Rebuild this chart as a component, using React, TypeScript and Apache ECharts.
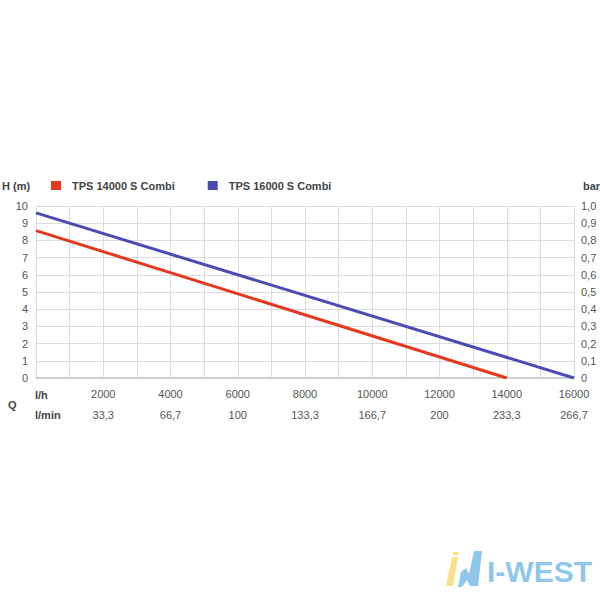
import React, { useEffect, useRef } from "react";
import * as echarts from "echarts";

const seriesNames = ["TPS 14000 S Combi", "TPS 16000 S Combi"];
const tps14000: [number, number][] = [
  [0, 8.57],
  [14000, 0],
];
const tps16000: [number, number][] = [
  [0, 9.6],
  [16000, 0],
];
const lhTicks = [2000, 4000, 6000, 8000, 10000, 12000, 14000, 16000];
const lminTicks = ["33,3", "66,7", "100", "133,3", "166,7", "200", "233,3", "266,7"];
const barTicks = ["0", "0,1", "0,2", "0,3", "0,4", "0,5", "0,6", "0,7", "0,8", "0,9", "1,0"];

const FONT = "Liberation Sans, Arial, sans-serif";
const LABEL = "#555";

export default function App() {
  const ref = useRef<HTMLDivElement>(null);
  useEffect(() => {
    if (!ref.current) return;
    const chart = echarts.init(ref.current, undefined, { renderer: "svg" });
    chart.setOption({
      animation: false,
      backgroundColor: "#fff",
      textStyle: { fontFamily: FONT },
      grid: { left: 36, right: 26, top: 206, bottom: 222 },
      legend: {
        left: 51,
        top: 180,
        padding: 0,
        icon: "rect",
        itemWidth: 10,
        itemHeight: 9,
        itemGap: 33,
        textStyle: { fontSize: 11, fontWeight: "bold", color: "#444", fontFamily: FONT, padding: [0, 0, 0, 6] },
        data: seriesNames,
      },
      xAxis: [
        {
          type: "value",
          min: 0,
          max: 16000,
          interval: 1000,
          axisLine: { show: false },
          axisTick: { show: false },
          splitLine: { show: true, lineStyle: { color: "#dcdcdc", width: 1 } },
          axisLabel: {
            margin: 10,
            fontSize: 11,
            color: LABEL,
            fontFamily: FONT,
            formatter: (v: number) => (lhTicks.indexOf(v) >= 0 ? String(v) : ""),
          },
        },
        {
          type: "value",
          position: "bottom",
          offset: 26,
          min: 0,
          max: 16000,
          interval: 1000,
          axisLine: { show: true, lineStyle: { color: "#cfcfcf", width: 2 } },
          axisTick: { show: false },
          splitLine: { show: false },
          axisLabel: {
            margin: 5,
            fontSize: 11,
            color: LABEL,
            fontFamily: FONT,
            formatter: (v: number) => {
              const i = lhTicks.indexOf(v);
              return i >= 0 ? lminTicks[i] : "";
            },
          },
        },
      ],
      yAxis: [
        {
          type: "value",
          min: 0,
          max: 10,
          interval: 1,
          axisLine: { show: false },
          axisTick: { show: false },
          splitLine: { show: true, lineStyle: { color: "#dcdcdc", width: 1 } },
          axisLabel: { margin: 8, fontSize: 11, color: LABEL, fontFamily: FONT },
        },
        {
          type: "value",
          position: "right",
          min: 0,
          max: 10,
          interval: 1,
          axisLine: { show: false },
          axisTick: { show: false },
          splitLine: { show: false },
          axisLabel: {
            margin: 7,
            fontSize: 11,
            color: LABEL,
            fontFamily: FONT,
            formatter: (v: number) => barTicks[Math.round(v)] ?? "",
          },
        },
      ],
      series: [
        {
          name: seriesNames[0],
          type: "line",
          data: tps14000,
          showSymbol: false,
          symbol: "none",
          lineStyle: { color: "#e5391f", width: 3 },
          itemStyle: { color: "#e5391f" },
        },
        {
          name: seriesNames[1],
          type: "line",
          data: tps16000,
          showSymbol: false,
          symbol: "none",
          lineStyle: { color: "#4a4cb2", width: 3 },
          itemStyle: { color: "#4a4cb2" },
        },
      ],
      graphic: [
        { type: "text", left: 2, top: 180, style: { text: "H (m)", fontSize: 11, fontWeight: "bold", fill: "#444", fontFamily: FONT } },
        { type: "text", left: 583, top: 180, style: { text: "bar", fontSize: 11, fontWeight: "bold", fill: "#444", fontFamily: FONT } },
        { type: "text", left: 35, top: 389, style: { text: "l/h", fontSize: 11, fontWeight: "bold", fill: "#444", fontFamily: FONT } },
        { type: "text", left: 35, top: 409, style: { text: "l/min", fontSize: 11, fontWeight: "bold", fill: "#444", fontFamily: FONT } },
        { type: "text", left: 8, top: 399, style: { text: "Q", fontSize: 11, fontWeight: "bold", fill: "#444", fontFamily: FONT } },
        {
          type: "polygon",
          shape: { points: [[453, 552], [459, 552], [458.5, 555], [452.5, 555]] },
          style: { fill: "#fbe08c" },
        },
        {
          type: "polygon",
          shape: { points: [[452, 557], [458, 557], [453, 586], [446, 586]] },
          style: { fill: "#fbe08c" },
        },
        {
          type: "polygon",
          shape: {
            points: [[474, 551], [482, 551], [478, 586], [470, 586], [467, 580], [462, 587], [458, 587], [461, 572], [466, 568], [469, 574]],
          },
          style: { fill: "#8fc7ea" },
        },
        {
          type: "text",
          left: 487,
          top: 556,
          style: { text: "I-WEST", fontSize: 30, fontWeight: "bold", fill: "#8fc7ea", fontFamily: FONT },
        },
      ],
    });
    return () => chart.dispose();
  }, []);
  return <div ref={ref} style={{ width: 600, height: 600, position: "absolute", left: 0, top: 0 }} />;
}
